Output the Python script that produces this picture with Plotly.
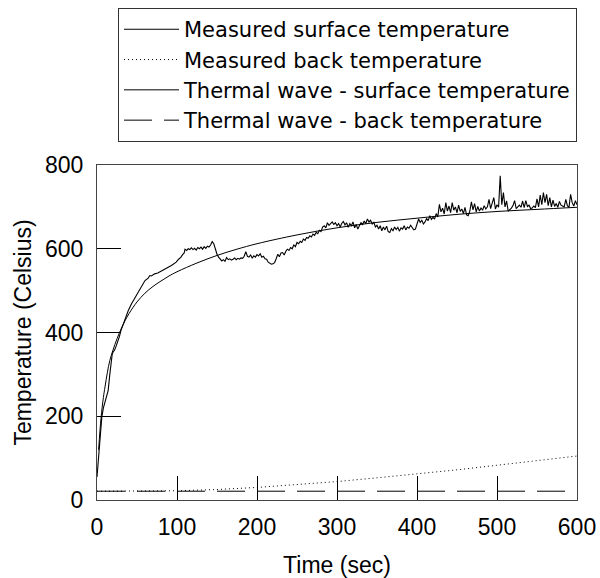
import plotly.graph_objects as go

# measured surface temperature
surf_time = [0, 2, 4, 6, 8, 10, 12, 14, 16, 17.5, 19, 20, 22, 24, 26, 28, 30, 33, 36, 39,
             43, 47, 52, 56, 60, 64, 66, 68, 72, 76, 81, 85, 89, 93, 96, 99, 102, 105, 107, 109,
             110, 112, 114, 116, 118, 120, 122, 124, 126, 128, 130, 132, 134, 136, 138, 140, 142, 144, 146, 148,
             150, 152, 154, 156, 158, 160, 162, 164, 166, 168, 170, 172, 174, 176, 178, 180, 182, 184, 186, 188,
             190, 192, 194, 196, 198, 200, 202, 204, 206, 208, 210, 212, 214, 216, 218, 220, 222, 224, 226, 228,
             230, 232, 234, 236, 238, 240, 242, 244, 246, 248, 250, 252, 254, 256, 258, 260, 262, 264, 266, 268,
             270, 272, 274, 276, 278, 280, 282, 284, 286, 288, 290, 292, 294, 296, 298, 300, 302, 304, 306, 308,
             310, 312, 314, 316, 318, 320, 322, 324, 326, 328, 330, 332, 334, 336, 338, 340, 342, 344, 346, 348,
             350, 352, 354, 356, 358, 360, 362, 364, 366, 368, 370, 372, 374, 376, 378, 380, 382, 384, 386, 388,
             390, 392, 394, 396, 398, 400, 402, 404, 406, 408, 410, 412, 414, 416, 418, 420, 422, 424, 426, 428,
             430, 432, 434, 436, 438, 440, 442, 444, 446, 448, 450, 452, 454, 456, 458, 460, 462, 464, 466, 468,
             470, 472, 474, 476, 478, 480, 482, 484, 486, 488, 490, 492, 494, 496, 498, 500, 502, 504, 506, 508,
             510, 512, 514, 516, 518, 520, 522, 524, 526, 528, 530, 532, 534, 536, 538, 540, 542, 544, 546, 548,
             550, 552, 554, 556, 558, 560, 562, 564, 566, 568, 570, 572, 574, 576, 578, 580, 582, 584, 586, 588,
             590, 592, 594, 596, 598, 600]
surf_temp = [55, 110, 160, 198, 220, 235, 248, 262, 300, 333, 348, 353, 358, 368, 377, 390, 405, 421, 437, 452,
             468, 481, 500, 513, 524, 530, 536, 535, 540, 542, 548, 551, 556, 560, 563, 568, 575, 580, 586, 590,
             599, 596, 600, 598, 602, 598, 601, 597, 603, 600, 604, 599, 605, 601, 606, 604, 609, 617, 612, 596,
             587, 580, 574, 571, 574, 570, 579, 574, 576, 573, 575, 578, 574, 577, 575, 578, 577, 582, 593, 582,
             580, 585, 578, 583, 580, 586, 583, 588, 580, 582, 576, 575, 568, 566, 563, 564, 567, 576, 587, 581,
             590, 591, 585, 594, 599, 596, 603, 600, 609, 605, 615, 612, 618, 615, 623, 620, 627, 625, 631, 628,
             635, 632, 639, 636, 644, 641, 652, 655, 650, 662, 656, 660, 664, 658, 662, 655, 660, 652, 661, 665,
             657, 662, 651, 660, 655, 664, 650, 658, 647, 655, 662, 658, 666, 660, 671, 664, 668, 659, 663, 652,
             656, 647, 655, 643, 652, 645, 654, 641, 639, 648, 643, 652, 646, 651, 642, 650, 647, 655, 645, 652,
             649, 656, 650, 645, 647, 662, 671, 663, 668, 659, 664, 672, 667, 679, 670, 675, 671, 684, 676, 706,
             688, 697, 683, 710, 690, 702, 686, 710, 692, 700, 686, 704, 689, 695, 684, 699, 681, 679, 690, 712,
             693, 708, 688, 701, 690, 697, 692, 703, 695, 700, 718, 696, 712, 722, 695, 705, 699, 774, 705, 734,
             700, 714, 690, 693, 697, 703, 715, 696, 700, 704, 699, 714, 698, 715, 701, 704, 696, 697, 702, 698,
             719, 700, 728, 705, 734, 710, 730, 703, 722, 700, 716, 701, 708, 699, 713, 704, 702, 700, 718, 703,
             699, 730, 710, 702, 715, 705]

# measured back temperature
back_time = [0, 50, 100, 150, 200, 250, 300, 350, 400, 450, 500, 550, 600]
back_temp = [21, 21, 22, 25, 30, 37, 44, 53, 62, 72, 83, 94, 105]

# thermal wave model - surface
wave_surf_time = [2, 5, 8, 10, 13, 16, 20, 25, 30, 35, 40, 50, 60, 70, 80, 90, 100, 125, 150, 175,
                  200, 250, 300, 350, 400, 450, 500, 550, 600]
wave_surf_temp = [120, 195, 245, 270, 305, 333, 358, 385, 408, 428, 445, 473, 494, 510, 523, 535, 545, 566, 584, 599,
                  612, 633, 650, 663, 673, 682, 689, 694, 699]

# thermal wave model - back
wave_back_time = [0, 600]
wave_back_temp = [21, 21]

font = 'Liberation Sans, Arial, sans-serif'

fig = go.Figure()
fig.add_trace(go.Scatter(x=surf_time, y=surf_temp, mode='lines',
                         line=dict(color='black', width=1.1),
                         name='Measured surface temperature'))
fig.add_trace(go.Scatter(x=back_time, y=back_temp, mode='lines',
                         line=dict(color='black', width=1, dash='1px,3px'),
                         name='Measured back temperature'))
fig.add_trace(go.Scatter(x=wave_surf_time, y=wave_surf_temp, mode='lines', line_shape='spline',
                         line=dict(color='black', width=1),
                         name='Thermal wave - surface temperature'))
fig.add_trace(go.Scatter(x=wave_back_time, y=wave_back_temp, mode='lines',
                         line=dict(color='black', width=1, dash='28px,12px'),
                         name='Thermal wave - back temperature'))

fig.update_layout(
    width=600, height=578,
    margin=dict(l=97, r=23, t=165, b=78),
    paper_bgcolor='white', plot_bgcolor='white',
    font=dict(family=font, size=23, color='black'),
    showlegend=True,
    legend=dict(x=1, xanchor='right', yref='container', y=0.986, yanchor='top',
                bordercolor='#333', borderwidth=1, itemwidth=55,
                font=dict(family='DejaVu Sans', size=21), tracegroupgap=0,
                bgcolor='white'),
)
fig.update_xaxes(range=[0, 600], tickvals=[0, 100, 200, 300, 400, 500, 600],
                 ticks='inside', ticklen=24, tickcolor='black', automargin=False,
                 ticklabelstandoff=6,
                 showline=True, linecolor='#444', linewidth=1, mirror=True,
                 showgrid=False, zeroline=False,
                 title=dict(text='Time (sec)', font=dict(size=23), standoff=19))
fig.update_yaxes(range=[0, 800], tickvals=[0, 200, 400, 600, 800],
                 ticks='inside', ticklen=24, tickcolor='black', automargin=False,
                 ticklabelstandoff=8,
                 showline=True, linecolor='#444', linewidth=1, mirror=True,
                 showgrid=False, zeroline=False,
                 title=dict(text='Temperature (Celsius)', font=dict(size=23), standoff=6))

# drop the page's default body margin so the figure sits at the window origin
fig.write_html("out.html", config={'displayModeBar': False},
               post_script="document.body.style.margin='0';")
